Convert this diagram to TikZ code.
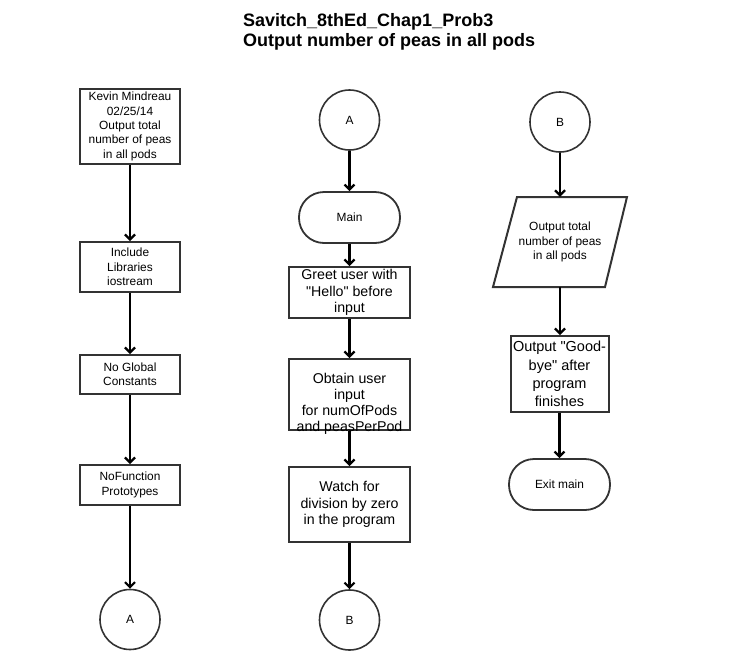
\documentclass[tikz,border=0pt]{standalone}
\usepackage{fontspec}
\setmainfont{Liberation Sans}
\newfontfamily\plainqfont{Liberation Sans}[Ligatures=TeXOff]
\usetikzlibrary{arrows.meta}
\newcommand\straightdq{{\plainqfont"}}
\begin{document}
\begin{tikzpicture}[x=1pt,y=-1pt,
  small/.style={font=\fontsize{11.9}{14.3}\selectfont},
  big/.style={font=\fontsize{14.2}{16.2}\selectfont},
  box/.style={draw=black!80, line width=2pt, rectangle, inner sep=0pt, align=center},
  conn/.style={draw=black!80, line width=1.6pt, circle, minimum size=60pt, inner sep=0pt, small},
  term/.style={draw=black!80, line width=1.8pt, rectangle, rounded corners=25pt, inner sep=0pt, align=center, small},
  arr/.style={line width=2.2pt, -{Straight Barb[length=5pt,width=10pt]}}
]
\useasboundingbox (0,0) rectangle (740,670);
\fill[white] (0,0) rectangle (740,670);

% title
\node[anchor=north west, align=left, inner sep=0pt, font=\fontsize{18}{20}\selectfont\bfseries] (title) at (243,13.5)
  {Savitch\_8thEd\_Chap1\_Prob3\\Output number of peas in all pods};

% left column
\node[box, small, minimum width=100pt, minimum height=75pt] (l1) at (130,126.5)
  {Kevin Mindreau\\02/25/14\\Output total\\number of peas\\in all pods};
\node[box, small, minimum width=100pt, minimum height=50pt] (l2) at (130,267)
  {Include\\Libraries\\iostream};
\node[box, small, minimum width=100pt, minimum height=39pt] (l3) at (130,374.5)
  {No Global\\Constants};
\node[box, small, minimum width=100pt, minimum height=40pt] (l4) at (130,485)
  {NoFunction\\Prototypes};
\node[conn] (la) at (130,619.5) {A};

% middle column
\node[conn] (ma) at (349.5,120) {A};
\node[term, minimum width=101pt, minimum height=51pt] (main) at (349.5,217.5) {Main};
\node[box, big, minimum width=121pt, minimum height=51pt] (greet) at (349.5,292.5)
  {Greet user with\\\straightdq Hello\straightdq{} before\\input};
\node[box, minimum width=121pt, minimum height=71pt,
  label={[big, align=center, yshift=-9.5pt]center:Obtain user\\input\\for numOfPods\\and peasPerPod}] (obtain) at (349.5,394.5) {};
\node[box, big, minimum width=121pt, minimum height=75pt] (watch) at (349.5,504.5)
  {Watch for\\division by zero\\in the program};
\node[conn] (mb) at (349.5,620) {B};

% right column
\node[conn] (rb) at (560,122) {B};
\node[small, align=center, minimum width=110pt, minimum height=90pt, inner sep=0pt] (para) at (560,242)
  {Output total\\number of peas\\in all pods};
\draw[draw=black!80, line width=2pt, line join=miter] (517,197) -- (627,197) -- (605,287) -- (493,287) -- cycle;
\node[box, font=\fontsize{14.5}{18.2}\selectfont, minimum width=98pt, minimum height=76pt] (bye) at (559.5,374)
  {Output \straightdq Good-\\bye\straightdq{} after\\program\\finishes};
\node[term, minimum width=101pt, minimum height=51pt] (exit) at (559.5,484.5) {Exit main};

% connectors
\draw[arr] (l1.south) -- (l2.north);
\draw[arr] (l2.south) -- (l3.north);
\draw[arr] (l3.south) -- (l4.north);
\draw[arr] (l4.south) -- (la.north);

\draw[arr] (ma.south) -- (main.north);
\draw[arr] (main.south) -- (greet.north);
\draw[arr] (greet.south) -- (obtain.north);
\draw[arr] (obtain.south) -- (watch.north);
\draw[arr] (watch.south) -- (mb.north);

\draw[arr] (rb.south) -- (para.north);
\draw[arr] (para.south) -- (para.south |- bye.north);
\draw[arr] (bye.south) -- (exit.north);
\end{tikzpicture}
\end{document}
